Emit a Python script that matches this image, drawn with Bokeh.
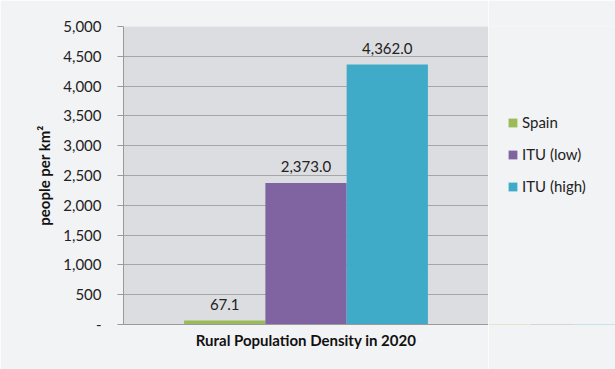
from bokeh.plotting import figure
from bokeh.layouts import row
from bokeh.models import ColumnDataSource, FactorRange, Range1d, LabelSet, Legend, LegendItem, CustomJSTickFormatter, SingleIntervalTicker
from bokeh.core.properties import value
from bokeh.embed import file_html
from bokeh.resources import INLINE

category = "Rural Population Density in 2020"
series = ["Spain", "ITU (low)", "ITU (high)"]
values = [67.1, 2373.0, 4362.0]
labels = ["67.1", "2,373.0", "4,362.0"]
colors = ["#9bbb59", "#8064a2", "#40abc8"]

FONT = "Lato"
BG = "#f2f3f5"

src = ColumnDataSource(dict(series=series, value=values, label=labels, color=colors))

p = figure(frame_width=365, frame_height=298, output_backend="svg", toolbar_location=None,
           x_range=FactorRange(*series, range_padding=0.497, range_padding_units="percent"),
           y_range=Range1d(0, 5000),
           min_border_left=123, min_border_right=0, min_border_top=26, min_border_bottom=45)

p.background_fill_color = "#dcdde0"
p.border_fill_color = BG
p.outline_line_color = None

r = p.vbar(x="series", top="value", width=1.0, source=src, fill_color="color",
           line_color=None)

lbl = LabelSet(x="series", y="value", text="label", source=src, y_offset=11,
               text_align="center", text_baseline="bottom", text_font=value(FONT),
               text_font_size="15px", text_color="#222222")
p.add_layout(lbl)

# Y axis
p.yaxis.ticker = SingleIntervalTicker(interval=500)
p.yaxis.formatter = CustomJSTickFormatter(code="return tick == 0 ? '-' : tick.toLocaleString('en-US');")
p.yaxis.axis_label = "people per km²"
p.yaxis.axis_label_text_font = FONT
p.yaxis.axis_label_text_font_style = "bold"
p.yaxis.axis_label_text_font_size = "15px"
p.yaxis.axis_label_text_color = "#111111"
p.yaxis.axis_label_standoff = 7
p.yaxis.major_label_text_font = FONT
p.yaxis.major_label_text_font_size = "15px"
p.yaxis.major_label_text_color = "#222222"
p.yaxis.major_label_standoff = 16
p.yaxis.major_tick_out = 6
p.yaxis.major_tick_in = 0
p.yaxis.minor_tick_line_color = None
p.yaxis.major_tick_line_color = "#9a9a9a"
p.yaxis.axis_line_color = "#9a9a9a"

# X axis
p.xaxis.axis_label = category
p.xaxis.axis_label_text_font = FONT
p.xaxis.axis_label_text_font_style = "bold"
p.xaxis.axis_label_text_font_size = "15px"
p.xaxis.axis_label_text_color = "#111111"
p.xaxis.axis_label_standoff = 0
p.xaxis.major_label_text_font_size = "0px"
p.xaxis.major_label_text_color = None
p.xaxis.major_tick_line_color = None
p.xaxis.axis_line_color = "#9a9a9a"

p.xgrid.grid_line_color = None
p.ygrid.grid_line_color = "#a6a6a6"
p.ygrid.grid_line_width = 1

# Legend panel: a second figure on the right holding the legend
q = figure(width=127, height=369, output_backend="svg", toolbar_location=None,
           x_range=FactorRange(*series), y_range=Range1d(10000, 20000),
           x_axis_location=None, y_axis_location=None, min_border=0)
q.background_fill_color = BG
q.border_fill_color = BG
q.outline_line_color = None
q.grid.grid_line_color = None
rq = q.vbar(x="series", top="value", width=1.0, source=src, fill_color="color",
            line_color=None)

leg = Legend(items=[LegendItem(label=s, renderers=[rq], index=i) for i, s in enumerate(series)],
             location=(19, 129), margin=0, padding=10)
leg.background_fill_alpha = 0
leg.border_line_color = None
leg.label_text_font = FONT
leg.label_text_font_size = "15px"
leg.label_text_color = "#222222"
leg.glyph_width = 11
leg.glyph_height = 11
leg.spacing = 14
leg.label_standoff = 4
q.add_layout(leg)

layout = row(p, q, spacing=0)

open("out.html", "w").write(file_html(layout, INLINE))
